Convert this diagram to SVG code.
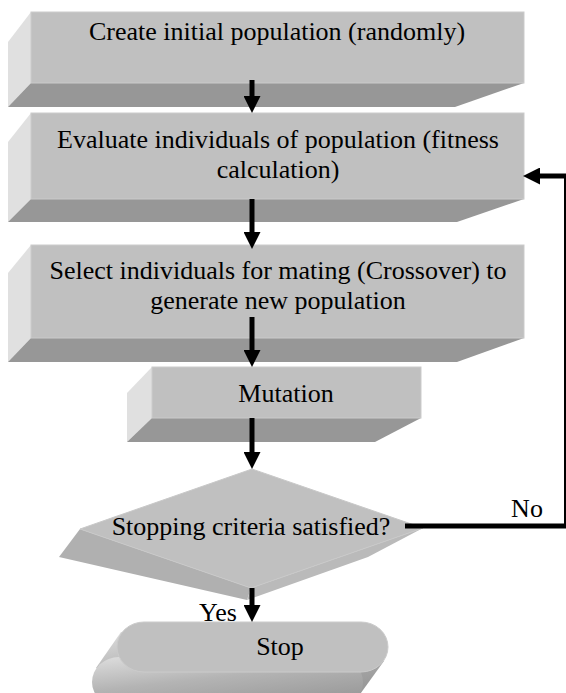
<svg xmlns="http://www.w3.org/2000/svg" width="566" height="693" viewBox="0 0 566 693">
<style>
.front{fill:#c0c0c0;stroke:#cbcbcb;stroke-width:1}
.side{fill:#e0e0e0}
.bottom{fill:#979797}
.t{font-family:"Liberation Serif","Times New Roman",serif;font-size:26px;fill:#000;text-anchor:middle}
.arr{stroke:#000;stroke-width:5;fill:none;marker-end:url(#ah)}
.thick{stroke:#000;stroke-width:5;fill:none}
.thin{stroke:#000;stroke-width:2;fill:none}
</style>
<defs>
<marker id="ah" markerUnits="userSpaceOnUse" markerWidth="17" markerHeight="17" refX="0" refY="8.5" orient="auto">
<path d="M0,0 L17,8.5 L0,17 Z" fill="#000"/>
</marker>
<linearGradient id="stopDepth" x1="0" y1="0" x2="0.6" y2="1">
<stop offset="0" stop-color="#dedede"/>
<stop offset="0.5" stop-color="#b4b4b4"/>
<stop offset="1" stop-color="#9a9a9a"/>
</linearGradient>
</defs>
<rect width="566" height="693" fill="#fff"/>

<g id="node-create">
<polygon class="side" points="31,12 8,42 8,107 31,83"/>
<polygon class="bottom" points="31,83 8,107 455,107 524,83"/>
<rect class="front" x="31" y="12" width="493" height="71"/>
<text class="t" x="277" y="40">Create initial population (randomly)</text>
</g>

<g id="node-evaluate">
<polygon class="side" points="31,113 8,142 8,222 31,199"/>
<polygon class="bottom" points="31,199 8,222 457,222 524,199"/>
<rect class="front" x="31" y="113" width="493" height="86"/>
<text class="t" x="278" y="148">Evaluate individuals of population (fitness</text>
<text class="t" x="278" y="178">calculation)</text>
</g>

<g id="node-select">
<polygon class="side" points="31,245 8,273 8,362 31,338"/>
<polygon class="bottom" points="31,338 8,362 457,362 524,338"/>
<rect class="front" x="31" y="245" width="493" height="93"/>
<text class="t" x="278" y="279">Select individuals for mating (Crossover) to</text>
<text class="t" x="278" y="309">generate new population</text>
</g>

<g id="node-mutation">
<polygon class="side" points="152,367 127,393 127,442 152,418"/>
<polygon class="bottom" points="152,418 127,442 375,442 421,418"/>
<rect class="front" x="152" y="367" width="269" height="51"/>
<text class="t" x="286" y="402">Mutation</text>
</g>

<g id="node-decision">
<polygon fill="#b0b0b0" points="80,529 59,557 247,600 251,588"/>
<polygon fill="#bababa" points="251,588 247,600 368,557 423,528"/>
<polygon fill="#c0c0c0" stroke="#c8c8c8" stroke-width="1" points="252,469 423,528 251,588 80,529"/>
<text class="t" x="251" y="535">Stopping criteria satisfied?</text>
</g>

<g id="node-stop">
<polygon fill="url(#stopDepth)" points="121,632 96,668 358,697 384,661"/>
<rect fill="url(#stopDepth)" x="92" y="657" width="271" height="50" rx="27" ry="25"/>
<rect fill="#c0c0c0" stroke="#cbcbcb" stroke-width="1" x="117" y="622" width="271" height="50" rx="27" ry="25"/>
<text class="t" x="280" y="655">Stop</text>
</g>

<g id="connectors">
<line class="arr" x1="252" y1="80" x2="252" y2="96"/>
<line class="arr" x1="252" y1="199" x2="252" y2="232"/>
<line class="arr" x1="252" y1="317" x2="252" y2="350"/>
<line class="arr" x1="252" y1="418" x2="252" y2="452"/>
<line class="arr" x1="252" y1="588" x2="252" y2="605"/>
<line class="thick" x1="405" y1="526" x2="566" y2="526"/>
<line class="thin" x1="565" y1="528" x2="565" y2="176"/>
<line class="arr" x1="566" y1="176" x2="540" y2="176"/>
<text class="t" x="527" y="517">No</text>
<text class="t" x="218" y="621">Yes</text>
</g>
</svg>
